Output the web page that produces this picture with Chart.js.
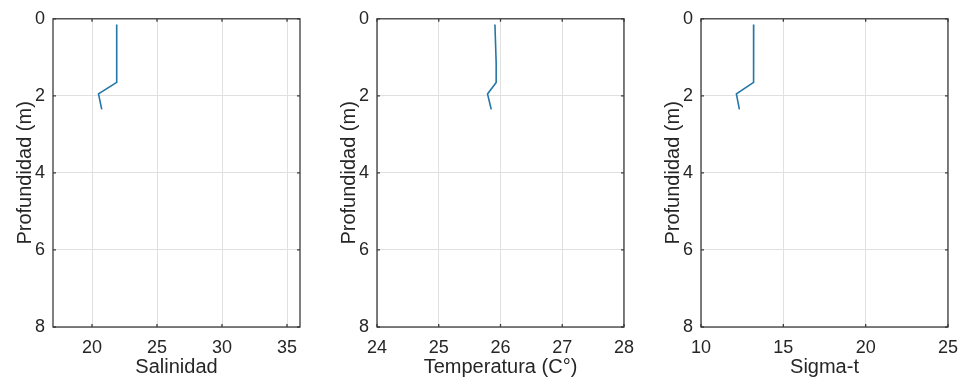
<!DOCTYPE html>
<html>
<head>
<meta charset="utf-8">
<script src="https://cdn.jsdelivr.net/npm/chart.js@4/dist/chart.umd.min.js"></script>
<style>
  html, body { margin: 0; padding: 0; background: #fff; overflow: hidden; }
  #wrap { position: relative; width: 966px; height: 391px; }
  .box { position: absolute; top: 0; width: 320px; height: 391px; }
  #b1 { left: 0px; }
  #b2 { left: 324px; }
  #b3 { left: 648px; }
</style>
</head>
<body>
<div id="wrap">
  <div class="box" id="b1"><canvas id="c1"></canvas></div>
  <div class="box" id="b2"><canvas id="c2"></canvas></div>
  <div class="box" id="b3"><canvas id="c3"></canvas></div>
</div>
<script>
// profundidad (m) de cada medicion
var depth = [0.15, 0.65, 1.15, 1.65, 1.95, 2.35];
var salinidad = [21.9, 21.9, 21.9, 21.9, 20.5, 20.75];
var temperatura = [25.91, 25.92, 25.93, 25.93, 25.79, 25.85];
var sigmaT = [13.2, 13.2, 13.2, 13.18, 12.15, 12.33];

var depthTicks = [0, 2, 4, 6, 8];
var salTicks = [20, 25, 30, 35];
var tempTicks = [24, 25, 26, 27, 28];
var sigmaTicks = [10, 15, 20, 25];

var txtColor = "#262626";
var lineColor = "#2476a6";

// caja y marcas hacia adentro, como en matlab
var boxPlugin = {
  id: "boxTicks",
  afterDraw(chart) {
    let ctx = chart.ctx, a = chart.chartArea;
    let xs = chart.scales.x, ys = chart.scales.y;
    ctx.save();
    ctx.strokeStyle = "#3c3c3c";
    ctx.lineWidth = 1.3;
    ctx.beginPath();
    xs.ticks.forEach(t => {
      let px = xs.getPixelForValue(t.value);
      ctx.moveTo(px, a.bottom); ctx.lineTo(px, a.bottom - 3);
      ctx.moveTo(px, a.top); ctx.lineTo(px, a.top + 3);
    });
    ys.ticks.forEach(t => {
      let py = ys.getPixelForValue(t.value);
      ctx.moveTo(a.left, py); ctx.lineTo(a.left + 3, py);
      ctx.moveTo(a.right, py); ctx.lineTo(a.right - 3, py);
    });
    ctx.stroke();
    ctx.strokeRect(a.left, a.top, a.right - a.left, a.bottom - a.top);
    ctx.restore();
  }
};

function makeProfile(id, xVals, xMin, xMax, xTicks, xTitle) {
  let pts = depth.map((d, i) => ({ x: xVals[i], y: d }));
  let ctx = document.getElementById(id).getContext("2d");
  return new Chart(ctx, {
    type: "scatter",
    data: {
      datasets: [{
        data: pts,
        showLine: true,
        borderColor: lineColor,
        borderWidth: 1.6,
        pointRadius: 0,
        tension: 0,
      }],
    },
    options: {
      responsive: true,
      maintainAspectRatio: false,
      animation: false,
      layout: { padding: { top: 14, right: 20, bottom: 0, left: 0 } },
      plugins: { legend: { display: false }, tooltip: { enabled: false } },
      scales: {
        x: {
          type: "linear",
          min: xMin,
          max: xMax,
          afterBuildTicks: (s) => { s.ticks = xTicks.map(v => ({ value: v })); },
          afterFit: (s) => { s.height = 64; },
          border: { display: false },
          grid: { color: "#e0e0e0", lineWidth: 1, drawTicks: false },
          ticks: { color: txtColor, font: { family: "Liberation Sans", size: 18 }, padding: 10, maxRotation: 0 },
          title: { display: true, text: xTitle, color: txtColor, font: { family: "Liberation Sans", size: 20 }, padding: { top: 0, bottom: 12 } },
        },
        y: {
          type: "linear",
          reverse: true,
          min: 0,
          max: 8,
          afterBuildTicks: (s) => { s.ticks = depthTicks.map(v => ({ value: v })); },
          afterFit: (s) => { s.width = 53; },
          border: { display: false },
          grid: { color: "#e0e0e0", lineWidth: 1, drawTicks: false },
          ticks: { color: txtColor, font: { family: "Liberation Sans", size: 18 }, padding: 8 },
          title: { display: true, text: "Profundidad (m)", color: txtColor, font: { family: "Liberation Sans", size: 20 }, padding: { top: 13, bottom: 0 } },
        },
      },
    },
    plugins: [boxPlugin],
  });
}

makeProfile("c1", salinidad, 17, 36, salTicks, "Salinidad");
makeProfile("c2", temperatura, 24, 28, tempTicks, "Temperatura (C°)");
makeProfile("c3", sigmaT, 10, 25, sigmaTicks, "Sigma-t");
</script>
</body>
</html>
